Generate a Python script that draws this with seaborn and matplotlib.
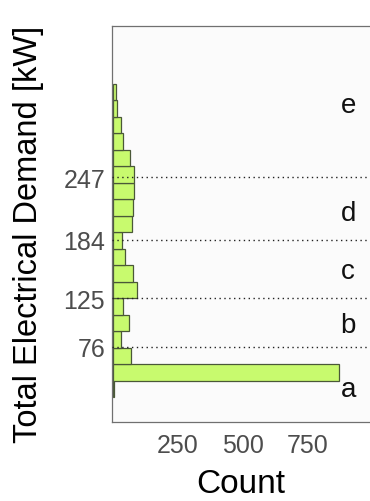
import numpy as np
import pandas as pd
import matplotlib
matplotlib.use("Agg")
import matplotlib.pyplot as plt
import seaborn as sns

# Histogram of total electrical demand (kW), horizontal bars
bin_start = 25.6
bin_width = 16.58
counts = [3, 870, 70, 32, 60, 40, 93, 78, 46, 35, 74, 78, 82, 80, 67, 37, 30, 14, 10]

# Cluster boundaries and cluster labels
thresholds = [76, 125, 184, 247]
cluster_labels = ["a", "b", "c", "d", "e"]
cluster_label_y = [34, 98, 152, 211, 320]

x_ticks = [250, 500, 750]

n_bins = len(counts)
bin_end = bin_start + bin_width * n_bins
centers = bin_start + bin_width * (np.arange(n_bins) + 0.5)
df = pd.DataFrame({"demand": centers, "n": counts})

sns.set_style("white")
plt.rcParams["font.family"] = ["Liberation Sans", "DejaVu Sans"]

fig = plt.figure(figsize=(3.70, 5.02), dpi=100)
ax = fig.add_axes([112 / 370, 1 - 423 / 502, 1 - 112 / 370, (423 - 27) / 502])
ax.set_facecolor("#fbfbfb")

sns.histplot(data=df, y="demand", weights="n", binwidth=bin_width,
             binrange=(bin_start, bin_end), ax=ax,
             color="#c8fa6e", edgecolor="#4a5838", linewidth=0.9, alpha=1.0)

for t in thresholds:
    ax.axhline(t, color="#222222", linestyle=(0, (1, 2.5)), linewidth=1.0, zorder=3)

for lab, yy in zip(cluster_labels, cluster_label_y):
    ax.text(904, yy, lab, ha="center", va="center", fontsize=20, color="#111111")

ax.set_xlim(-4, 988)
ax.set_ylim(0.5, 399)
ax.set_xticks(x_ticks)
ax.set_yticks(thresholds)
ax.tick_params(axis="both", labelsize=18, labelcolor="#4d4d4d", colors="#888888",
               length=3, width=0.8, direction="out")
ax.tick_params(axis="y", pad=2)
ax.tick_params(axis="x", pad=5)
for s in ["left", "bottom", "top"]:
    ax.spines[s].set_color("#707070")
    ax.spines[s].set_linewidth(0.9)
ax.spines["right"].set_visible(False)

ax.set_xlabel("Count", fontsize=24, color="black", labelpad=8)
ax.set_ylabel("Total Electrical Demand [kW]", fontsize=23.5, color="black")
ax.yaxis.set_label_coords(-0.262, 0.477)

fig.savefig("out.png", dpi=100)
